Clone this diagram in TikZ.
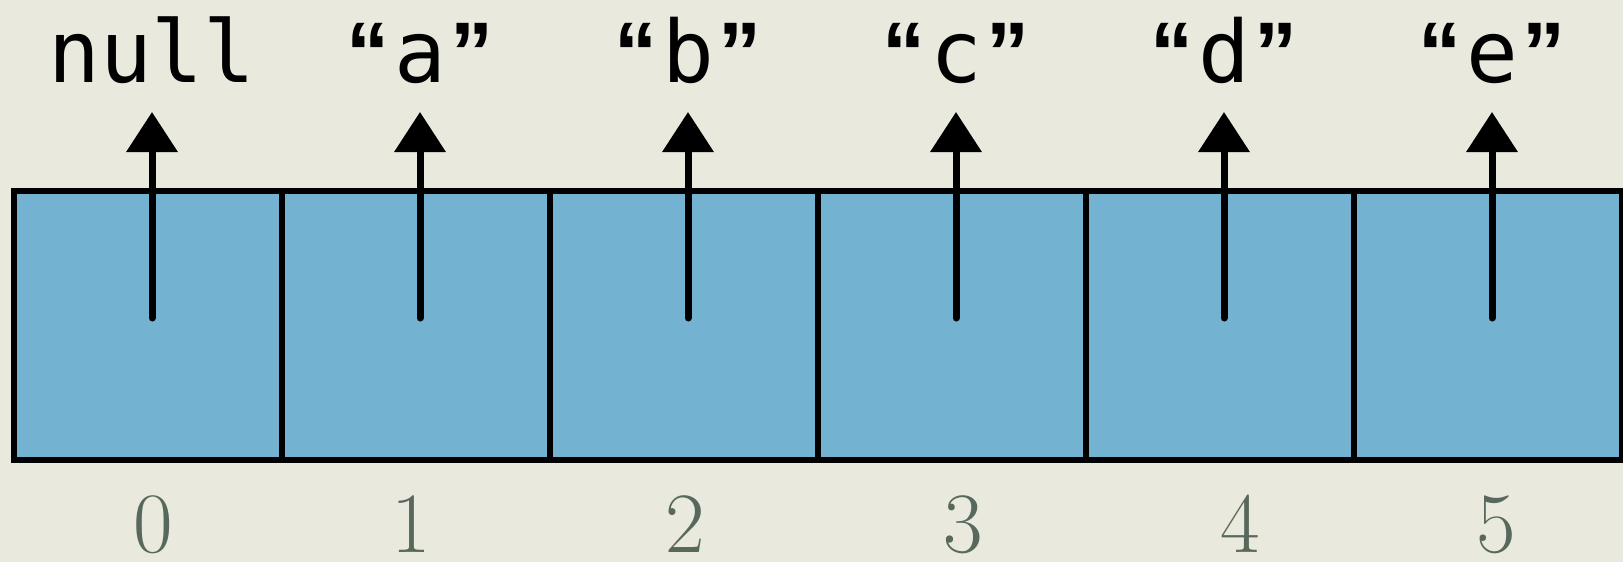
\documentclass[tikz,border=0pt]{standalone}
\usepackage{fontspec}
\setmonofont{DejaVu Sans Mono}
\newfontfamily\quotefont{Liberation Sans}
\usetikzlibrary{arrows.meta}
\definecolor{bgpaper}{RGB}{233,233,222}
\definecolor{cellblue}{RGB}{116,178,210}
\definecolor{idxgray}{RGB}{88,104,92}
\newcommand{\qleft}{\makebox[0.602em]{\quotefont\bfseries “}}
\newcommand{\qright}{\makebox[0.602em]{\quotefont\bfseries ”}}
\tikzset{
  cellbox/.style={draw=black, fill=cellblue, line width=6pt, minimum width=268pt, minimum height=269pt, inner sep=0pt, outer sep=0pt},
  ptr/.style={line width=7pt, -{Triangle[width=50pt,length=40pt]}, line cap=round},
  vallabel/.style={anchor=base, inner sep=0pt, font=\ttfamily\fontsize{86}{100}\selectfont},
  idxlabel/.style={anchor=base, inner sep=0pt, text=idxgray, font=\fontsize{86}{100}\selectfont}
}
\begin{document}
\begin{tikzpicture}[x=1pt, y=-1pt]
\useasboundingbox (0,0) rectangle (1623,562);
\fill[bgpaper] (0,0) rectangle (1623,562);
\foreach \i/\v/\ix in {0/null/153, 1/\qleft a\qright/411, 2/\qleft b\qright/685, 3/\qleft c\qright/963, 4/\qleft d\qright/1240, 5/\qleft e\qright/1496}{
  \node[cellbox] (c\i) at ({148+268*\i}, 325.5) {};
  \coordinate (t\i) at ({152+268*\i}, 318);
  \coordinate (h\i) at ({152+268*\i}, 112);
  \node[vallabel] (v\i) at ({152+268*\i}, 82) {\v};
  \node[idxlabel] (n\i) at (\ix, 552) {\i};
}
\foreach \i in {0,...,5}{
  \draw[ptr] (t\i) -- (h\i);
}
\end{tikzpicture}
\end{document}
